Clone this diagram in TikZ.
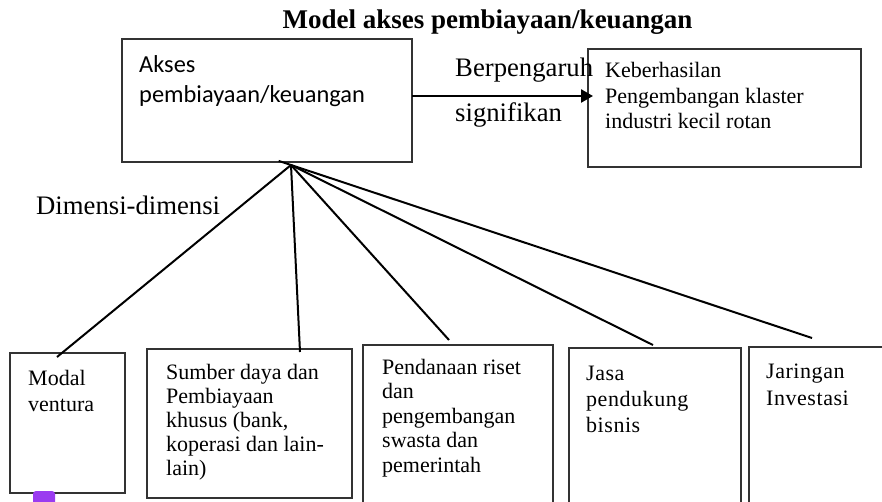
\documentclass[tikz,border=0pt]{standalone}
\usepackage{fontspec}
\setmainfont{Liberation Serif}
\newfontfamily\carlito{Carlito}
\usetikzlibrary{arrows.meta}
\definecolor{boxline}{gray}{0.2}
\definecolor{iconpurple}{HTML}{9A3BF0}
\begin{document}
\begin{tikzpicture}[x=1pt,y=-1pt,
  box/.style={draw=boxline, line width=1.3pt, anchor=north west, inner sep=0pt, outer sep=0pt},
  txt/.style={anchor=base west, inner sep=0pt, align=left},
  small/.style={font=\fontsize{22}{#1}\selectfont},
  spaced/.style={font=\fontsize{22}{#1}\selectfont\addfontfeature{LetterSpace=2.5}},
  conn/.style={line width=2pt, black},
  arr/.style={line width=2.5pt, black, -{Triangle[length=12pt,width=13pt]}},
  lbl/.style={anchor=base west, inner sep=0pt, font=\fontsize{26.7}{30}\selectfont}
]
\useasboundingbox (0,0) rectangle (882,502);

% title
\node[anchor=base, inner sep=0pt, font=\fontsize{27}{30}\selectfont\bfseries] (title) at (487.5,29) {Model akses pembiayaan/keuangan};

% top boxes (text nodes are placed by the baseline of their last line)
\node[box, minimum width=290pt, minimum height=123pt] (akses) at (122,39) {};
\node[txt, font=\carlito\fontsize{24.4}{30}\selectfont] (aksestext) at (139,103) {Akses\\pembiayaan/keuangan};

\node[box, minimum width=273pt, minimum height=118pt] (hasil) at (588,49) {};
\node[txt, small=25.5] (hasiltext) at (605,129) {Keberhasilan\\Pengembangan klaster\\industri kecil rotan};

% arrow and its labels
\coordinate (astart) at (412,96);
\draw[arr, shorten >=-5pt] (astart) -- (astart -| hasil.west);
\node[lbl] (berp) at (455,77) {Berpengaruh};
\node[lbl] (sig) at (455,122) {signifikan};
\node[lbl] (dim) at (36,215) {Dimensi-dimensi};

% bottom boxes
\node[box, minimum width=115pt, minimum height=140pt] (modal) at (10,353) {};
\node[txt, small=26] (modaltext) at (28,411) {Modal\\ventura};

\node[box, minimum width=205pt, minimum height=149pt] (sumber) at (147,349) {};
\node[txt, small=24.2] (sumbertext) at (166,475.8) {Sumber daya dan\\Pembiayaan\\khusus (bank,\\koperasi dan lain-\\lain)};

\node[box, minimum width=190pt, minimum height=175pt] (pendanaan) at (363,345) {};
\node[txt, small=24.5] (pendtext) at (382,472) {Pendanaan riset\\dan\\pengembangan\\swasta dan\\pemerintah};

\node[box, minimum width=172pt, minimum height=175pt] (jasa) at (569,348) {};
\node[txt, spaced=26] (jasatext) at (586,432) {Jasa\\pendukung\\bisnis};

\node[box, minimum width=160pt, minimum height=175pt] (jaringan) at (749,347) {};
\node[txt, spaced=27] (jartext) at (766,405) {Jaringan\\Investasi};

% connectors
\coordinate (hub) at (291,165);
\coordinate (e1) at (57,357);
\coordinate (e2) at (300,352);
\coordinate (e3) at (449,340);
\coordinate (e4) at (653,345);
\coordinate (e5) at (812,338);
\draw[conn] (hub) -- (e1);
\draw[conn] (hub) -- (e2);
\draw[conn] (hub) -- (e3);
\draw[conn] (hub) -- (e4);
\draw[conn, shorten <=-13pt] (hub) -- (e5);

% small purple mark at the bottom
\fill[iconpurple, rounded corners=3pt] (33,491) rectangle (55,512);
\end{tikzpicture}
\end{document}
